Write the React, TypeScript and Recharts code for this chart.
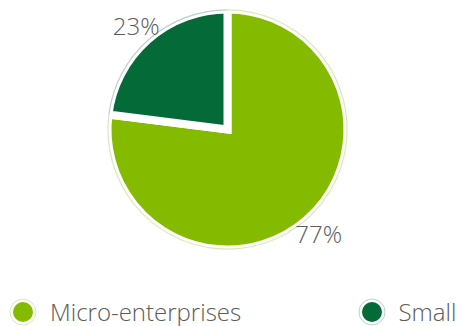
import { PieChart, Pie, Cell, Legend } from "recharts";

const categories = ["Micro-enterprises", "Small"];
const shares = [77, 23];
const colors = ["#84bb00", "#046a38"];
const haloColors = ["#d9eab8", "#b9d3c6"];

const data = categories.map((name, i) => ({ name, value: shares[i] }));

const FONT = "'Open Sans', sans-serif";
const RAD = Math.PI / 180;

const renderLabel = (props: any) => {
  const { cx, cy, midAngle, outerRadius, value } = props;
  const r = outerRadius + 18;
  const x = cx + r * Math.cos(-midAngle * RAD);
  const y = cy + r * Math.sin(-midAngle * RAD);
  return (
    <text
      x={x}
      y={y}
      textAnchor="middle"
      dominantBaseline="central"
      fill="#5b5b5b"
      style={{ fontFamily: FONT, fontWeight: 300, fontSize: 24 }}
    >
      {value}%
    </text>
  );
};

const LegendContent = () => (
  <div style={{ position: "relative", width: 462, height: 30 }}>
    {categories.map((name, i) => (
      <div
        key={name}
        style={{
          position: "absolute",
          left: i === 0 ? 9 : 357.5,
          top: 0,
          display: "flex",
          alignItems: "center",
          height: 30,
        }}
      >
        <svg width={28} height={28} style={{ marginRight: 13 }}>
          <circle cx={14} cy={14} r={13} fill="#fff" stroke={haloColors[i]} strokeWidth={1} />
          <circle cx={14} cy={14} r={10} fill={colors[i]} />
        </svg>
        <span style={{ fontFamily: FONT, fontWeight: 300, fontSize: 24, color: "#5b5b5b", lineHeight: "30px" }}>
          {name}
        </span>
      </div>
    ))}
  </div>
);

export default function App() {
  return (
    <div style={{ position: "absolute", left: 0, top: 0, width: 462, height: 326, background: "#fff" }}>
      <PieChart width={462} height={326} margin={{ top: 0, right: 0, bottom: 0, left: 0 }}>
        <Pie
          data={data}
          dataKey="value"
          nameKey="name"
          cx={227.5}
          cy={129.5}
          outerRadius={120}
          startAngle={90}
          endAngle={-270}
          stroke="#fff"
          strokeWidth={8}
          label={renderLabel}
          labelLine={false}
          isAnimationActive={false}
        >
          {data.map((d, i) => (
            <Cell key={d.name} fill={colors[i]} />
          ))}
        </Pie>
        <Pie
          data={data}
          dataKey="value"
          nameKey="name"
          cx={227.5}
          cy={129.5}
          innerRadius={119}
          outerRadius={120.2}
          startAngle={90}
          endAngle={-270}
          stroke="none"
          legendType="none"
          isAnimationActive={false}
        >
          {data.map((d, i) => (
            <Cell key={d.name} fill={haloColors[i]} />
          ))}
        </Pie>
        <Legend
          content={<LegendContent />}
          wrapperStyle={{ position: "absolute", left: 0, top: 297, width: 462, height: 29 }}
        />
      </PieChart>
    </div>
  );
}
